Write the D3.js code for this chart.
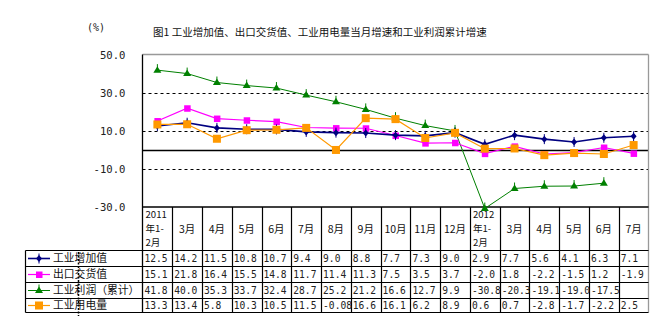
<!DOCTYPE html>
<html><head><meta charset="utf-8">
<script src="https://cdn.jsdelivr.net/npm/d3@7/dist/d3.min.js"></script>
<style>
body{margin:0;background:#fff;}
svg{display:block;}
.cjk{font-family:"Noto Sans CJK SC","Noto Sans",sans-serif;}
.num{font-family:"DejaVu Sans Mono","Liberation Mono",monospace;}
</style></head>
<body>
<script>
const categories = ["2011年1-2月","3月","4月","5月","6月","7月","8月","9月","10月","11月","12月","2012年1-2月","3月","4月","5月","6月","7月"];
const headerLines = [["2011","年1-","2月"],["3月"],["4月"],["5月"],["6月"],["7月"],["8月"],["9月"],["10月"],["11月"],["12月"],["2012","年1-","2月"],["3月"],["4月"],["5月"],["6月"],["7月"]];
const industryValueAdded = [12.5,14.2,11.5,10.8,10.7,9.4,9.0,8.8,7.7,7.3,9.0,2.9,7.7,5.6,4.1,6.3,7.1];
const exportDelivery = [15.1,21.8,16.4,15.5,14.8,11.7,11.4,11.3,7.5,3.5,3.7,-2.0,1.8,-2.2,-1.5,1.2,-1.9];
const industrialProfit = [41.8,40.0,35.3,33.7,32.4,28.7,25.2,21.2,16.6,12.7,9.9,-30.8,-20.3,-19.1,-19.0,-17.5,null];
const industrialPower = [13.3,13.4,5.8,10.3,10.5,11.5,-0.08,16.6,16.1,6.2,8.9,0.6,0.7,-2.8,-1.7,-2.2,2.5];
const valueLabels = [
  ["12.5","14.2","11.5","10.8","10.7","9.4","9.0","8.8","7.7","7.3","9.0","2.9","7.7","5.6","4.1","6.3","7.1"],
  ["15.1","21.8","16.4","15.5","14.8","11.7","11.4","11.3","7.5","3.5","3.7","-2.0","1.8","-2.2","-1.5","1.2","-1.9"],
  ["41.8","40.0","35.3","33.7","32.4","28.7","25.2","21.2","16.6","12.7","9.9","-30.8","-20.3","-19.1","-19.0","-17.5",""],
  ["13.3","13.4","5.8","10.3","10.5","11.5","-0.08","16.6","16.1","6.2","8.9","0.6","0.7","-2.8","-1.7","-2.2","2.5"]
];
const seriesNames = ["工业增加值","出口交货值","工业利润（累计）","工业用电量"];
const yTicks = [50,30,10,-10,-30];
const yTickLabels = ["50.0","30.0","10.0","-10.0","-30.0"];
const gridDashed = [30,10,-10];
const titleText = "图1 工业增加值、出口交货值、工业用电量当月增速和工业利润累计增速";
const unitText = "(%)";

const W=662,H=328;
const L=142.5,R=648.5,T=54.5,B=207;
const svg=d3.select("body").append("svg").attr("width",W).attr("height",H);

const x=d3.scaleBand().domain(d3.range(categories.length)).range([L,R]).padding(0);
const y=d3.scaleLinear().domain([-30,50]).range([B,T]);
const cx=i=>x(i)+x.bandwidth()/2;

// title and unit
svg.append("text").attr("class","cjk").attr("x",153).attr("y",36).attr("font-size",10.5).attr("fill","#111").text(titleText);
svg.append("text").attr("class","num").attr("x",87).attr("y",31).attr("font-size",10).attr("fill","#222").text(unitText);

// gridlines
svg.selectAll(".grid").data(gridDashed).enter().append("line")
  .attr("x1",L).attr("x2",R).attr("y1",d=>Math.round(y(d))+0.5).attr("y2",d=>Math.round(y(d))+0.5)
  .attr("stroke","#000").attr("stroke-width",1).attr("stroke-dasharray","3,3");
svg.append("line").attr("x1",L).attr("x2",R).attr("y1",Math.round(y(0))+0.5).attr("y2",Math.round(y(0))+0.5).attr("stroke","#000").attr("stroke-width",1.3);

// frame
svg.append("line").attr("x1",L).attr("x2",R).attr("y1",T).attr("y2",T).attr("stroke","#999").attr("stroke-width",1.3);
svg.append("line").attr("x1",R).attr("x2",R).attr("y1",T).attr("y2",312.5).attr("stroke","#999").attr("stroke-width",1.3);
svg.append("line").attr("x1",L).attr("x2",L).attr("y1",T).attr("y2",312.5).attr("stroke","#000").attr("stroke-width",1.3);
svg.append("line").attr("x1",L).attr("x2",R).attr("y1",B).attr("y2",B).attr("stroke","#000").attr("stroke-width",1.3);

// y axis labels via d3 axis
const yAxis=d3.axisLeft(y).tickValues(yTicks).tickFormat((d,i)=>yTickLabels[i]).tickSize(0).tickPadding(0);
const ya=svg.append("g").attr("transform","translate(125.5,0)").call(yAxis);
ya.select(".domain").remove();
ya.selectAll("text").attr("class","num").attr("font-size",10.6).attr("fill","#222").attr("dy","0.35em");

// table
const rowY=[250.5,266.5,282.5,298.5,312.5];
const tl=25.5;
svg.selectAll(".rowline").data(rowY).enter().append("line")
  .attr("x1",tl).attr("x2",R).attr("y1",d=>d).attr("y2",d=>d).attr("stroke","#000").attr("stroke-width",1.2);
svg.append("line").attr("x1",tl).attr("x2",tl).attr("y1",rowY[0]).attr("y2",rowY[4]).attr("stroke","#000").attr("stroke-width",1.2);
svg.selectAll(".colline").data(d3.range(1,categories.length)).enter().append("line")
  .attr("x1",d=>Math.round(x(d))+0.5).attr("x2",d=>Math.round(x(d))+0.5).attr("y1",B).attr("y2",312.5).attr("stroke","#000").attr("stroke-width",1.2);

// headers
headerLines.forEach((lines,i)=>{
  if(lines.length===1){
    svg.append("text").attr("class","cjk").attr("x",cx(i)).attr("y",229).attr("dy","0.35em").attr("text-anchor","middle").attr("font-size",10.5).attr("fill","#111").text(lines[0]);
  } else {
    lines.forEach((s,k)=>{
      svg.append("text").attr("class","cjk").attr("font-size",9.6).attr("fill","#111")
        .attr("x",x(i)+3).attr("y",215+k*14).attr("dy","0.35em").text(s);
    });
  }
});

// values
valueLabels.forEach((row,r)=>{
  row.forEach((t,i)=>{
    svg.append("text").attr("class","num").attr("x",x(i)+2).attr("y",(rowY[r]+rowY[r+1])/2).attr("dy","0.36em").attr("font-size",9.6).attr("fill","#222").text(t);
  });
});

// series
const colors=["#000080","#FF00FF","#008000","#FF9900"];
const widths=[1.6,1.2,1,1.2];
const data=[industryValueAdded,exportDelivery,industrialProfit,industrialPower];

function marker(g,type,px,py,c){
  if(type===0){
    g.append("path").attr("d",`M${px},${py-3.5}L${px+3},${py}L${px},${py+3.5}L${px-3},${py}Z`).attr("fill",c);
    g.append("line").attr("x1",px).attr("x2",px).attr("y1",py-5).attr("y2",py+5).attr("stroke",c).attr("stroke-width",1);
  } else if(type===1){
    g.append("rect").attr("x",px-3).attr("y",py-3).attr("width",6.5).attr("height",6.5).attr("fill",c);
  } else if(type===2){
    g.append("path").attr("d",`M${px},${py-4}L${px+4},${py+2.5}L${px-4},${py+2.5}Z`).attr("fill",c);
    g.append("line").attr("x1",px).attr("x2",px).attr("y1",py-6).attr("y2",py).attr("stroke",c).attr("stroke-width",1);
  } else {
    g.append("rect").attr("x",px-4).attr("y",py-4).attr("width",8).attr("height",8).attr("fill",c);
  }
}

const lineGen=d3.line().defined(d=>d!=null).x((d,i)=>cx(i)).y(d=>y(d));
[2,1,0,3].forEach(s=>{
  const g=svg.append("g");
  g.append("path").datum(data[s]).attr("d",lineGen).attr("fill","none").attr("stroke",colors[s]).attr("stroke-width",widths[s]);
  data[s].forEach((v,i)=>{ if(v!=null) marker(g,s,cx(i),y(v),colors[s]); });
});

// legend column
seriesNames.forEach((n,r)=>{
  const my=(rowY[r]+rowY[r+1])/2;
  const g=svg.append("g");
  g.append("line").attr("x1",28).attr("x2",50).attr("y1",my).attr("y2",my).attr("stroke",colors[r]).attr("stroke-width",widths[r]);
  marker(g,r,39,my,colors[r]);
  g.append("text").attr("class","cjk").attr("x",53).attr("y",my).attr("dy","0.36em").attr("font-size",10.8).attr("fill","#111").text(n);
});
// dotted artifact line
svg.append("line").attr("x1",78.5).attr("x2",78.5).attr("y1",252).attr("y2",316).attr("stroke","#000").attr("stroke-width",1.5).attr("stroke-dasharray","2,1.5");
</script>
</body></html>
